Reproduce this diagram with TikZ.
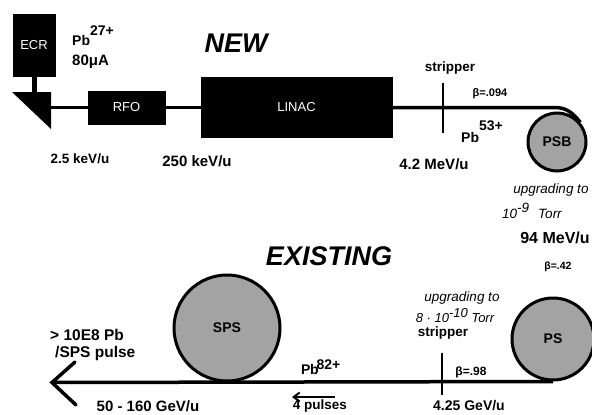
\documentclass[tikz,border=0pt]{standalone}
\usepackage{fontspec}
\setmainfont{Liberation Sans}
\setsansfont{Liberation Sans}
\usetikzlibrary{arrows.meta}
\newcommand{\fsz}[1]{\fontsize{#1}{#1}\selectfont}
\begin{document}
\begin{tikzpicture}[x=1pt,y=-1pt,
  lbl/.style={font=\bfseries\fsz{14}, inner sep=0pt},
  small/.style={font=\bfseries\fsz{11}, inner sep=0pt},
  itl/.style={font=\itshape\fsz{13.5}, inner sep=0pt},
  title/.style={font=\bfseries\itshape\fsz{27}, inner sep=0pt},
  blackbox/.style={draw=black, fill=black, text=white, inner sep=0pt, font=\fsz{13}},
  ring/.style={circle, draw=black, line width=3pt, fill=black!36, inner sep=0pt, font=\bfseries\fsz{14}},
  beam/.style={line width=3.5pt},
  tick/.style={line width=2.8pt}
]
\useasboundingbox (0,0) rectangle (592,415);

% ---- NEW section ----
\node[blackbox, minimum width=42pt, minimum height=62pt] (ecr) at (34,45.5) {ECR};
\fill (12,92) -- (51,92) -- (51,129) -- cycle;
\coordinate (tri) at (34,93);
\coordinate (triE) at (51,107.5);
\draw[line width=5pt] (ecr.south) -- (tri);

\node[blackbox, minimum width=77pt, minimum height=33pt] (rfo) at (126.5,107.5) {RFO};
\node[blackbox, minimum width=191pt, minimum height=60pt] (linac) at (296.5,107.5) {LINAC};

\node[ring, minimum size=58pt] (psb) at (557,142) {PSB};

\draw[beam] (triE) -- (rfo.west);
\draw[beam] (rfo.east) -- (linac.west);
\coordinate (bend) at (555,107.5);
\draw[beam] (linac.east) -- (bend) .. controls (568,107.5) and (574,114.7) .. (psb.40);

\coordinate (s1a) at (443,83);
\coordinate (s1b) at (443,133);
\draw[tick] (s1a) -- (s1b);
\node[lbl, font=\bfseries\fsz{13.5}] (strip1) at (450,68) {stripper};
\node[small] (b094) at (490,94) {β=.094};
\node[lbl, anchor=west] (pb53) at (461,132) {Pb\raisebox{12pt}{53+}};

\node[lbl, anchor=west] (pb27) at (72,36) {Pb\raisebox{10pt}{27+}};
\node[lbl, anchor=west, font=\bfseries\fsz{15}] (ua) at (72,62) {80μA};
\node[title] (new) at (236,43) {NEW};

\node[lbl, font=\bfseries\fsz{13.5}] (e1) at (80,159) {2.5 keV/u};
\node[lbl, font=\bfseries\fsz{15}] (e2) at (197,161) {250 keV/u};
\node[lbl, font=\bfseries\fsz{15}] (e3) at (434,164) {4.2 MeV/u};

\node[itl] (up1) at (551,190) {upgrading to};
\node[itl, anchor=west] (vac1) at (502,211) {10\raisebox{6pt}{-9}\hspace{9pt}Torr};
\node[lbl, font=\bfseries\fsz{16}] (e4) at (555,238) {94 MeV/u};
\node[small, font=\bfseries\fsz{10.5}] (b42) at (558,267) {β=.42};

% ---- EXISTING section ----
\node[title] (exist) at (329,256) {EXISTING};
\node[ring, minimum size=82pt] (ps) at (553,339) {PS};
\node[ring, minimum size=106pt] (sps) at (227,328) {SPS};

\node[itl] (up2) at (462,298) {upgrading to};
\node[itl, font=\itshape\fsz{13}] (vac2) at (455,316) {8 · 10\raisebox{5pt}{-10} Torr};
\node[lbl, font=\bfseries\fsz{13.5}] (strip2) at (443,333) {stripper};
\coordinate (s2a) at (442,353);
\coordinate (s2b) at (442,395);
\draw[tick] (s2a) -- (s2b);
\node[small, font=\bfseries\fsz{12}] (b98) at (471,372) {β=.98};

\coordinate (tip) at (52,382.5);
\draw[beam] (ps.south) -- (tip);
\coordinate (armU) at (75,362);
\coordinate (armD) at (76,405);
\draw[line width=3.5pt, line cap=round, line join=miter] (armU) -- (tip) -- (armD);

\node[lbl, anchor=west] (pb82) at (301,367) {P\hspace{-0.5pt}b\hspace{-2pt}\raisebox{5pt}{82+}};
\coordinate (pa) at (335,397);
\coordinate (pb) at (292,397);
\draw[line width=2pt, -{Straight Barb[length=6pt,width=9pt]}] (pa) -- (pb);
\node[lbl, font=\bfseries\fsz{13.5}] (pulses) at (320,406.5) {4 pulses};

\node[lbl] (e5) at (469,406) {4.25 GeV/u};
\node[lbl, font=\bfseries\fsz{15}] (e6) at (148,406) {50 - 160 GeV/u};
\node[lbl, anchor=west, font=\bfseries\fsz{15.5}] (n1) at (50,335) {> 10E8 Pb};
\node[lbl, anchor=west, font=\bfseries\fsz{15.5}] (n2) at (55,353) {/SPS pulse};
\end{tikzpicture}
\end{document}
